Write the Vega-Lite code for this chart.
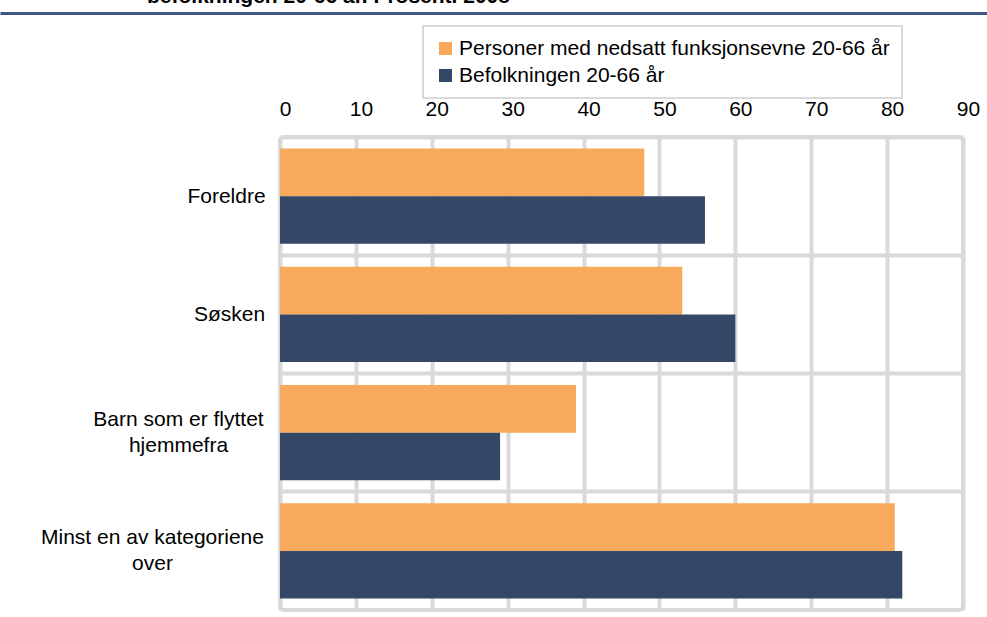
{
  "$schema": "https://vega.github.io/schema/vega-lite/v6.json",
  "width": 683,
  "height": 473,
  "autosize": {"type": "none"},
  "padding": {"left": 280, "top": 137, "right": 24, "bottom": 7},
  "background": "white",
  "title": {
    "text": "befolkningen 20-66 år. Prosent. 2008",
    "anchor": "start",
    "frame": "group",
    "dx": -133,
    "dy": 20,
    "offset": 9,
    "baseline": "alphabetic",
    "fontSize": 21,
    "fontWeight": "bold",
    "font": "Liberation Sans",
    "color": "#000000"
  },
  "config": {
    "font": "Liberation Sans",
    "view": {"stroke": "#d9d9d9", "strokeWidth": 4, "cornerRadius": 4},
    "legend": {"strokeWidth": 2}
  },
  "data": {
    "values": [
      {"kategori": "Foreldre", "gruppe": "Personer med nedsatt funksjonsevne 20-66 år", "prosent": 48},
      {"kategori": "Foreldre", "gruppe": "Befolkningen 20-66 år", "prosent": 56},
      {"kategori": "Søsken", "gruppe": "Personer med nedsatt funksjonsevne 20-66 år", "prosent": 53},
      {"kategori": "Søsken", "gruppe": "Befolkningen 20-66 år", "prosent": 60},
      {"kategori": "Barn som er flyttet hjemmefra", "gruppe": "Personer med nedsatt funksjonsevne 20-66 år", "prosent": 39},
      {"kategori": "Barn som er flyttet hjemmefra", "gruppe": "Befolkningen 20-66 år", "prosent": 29},
      {"kategori": "Minst en av kategoriene over", "gruppe": "Personer med nedsatt funksjonsevne 20-66 år", "prosent": 81},
      {"kategori": "Minst en av kategoriene over", "gruppe": "Befolkningen 20-66 år", "prosent": 82}
    ]
  },
  "layer": [
    {
      "mark": {"type": "bar"},
      "encoding": {
        "y": {
          "field": "kategori",
          "type": "nominal",
          "sort": null,
          "scale": {"paddingInner": 0, "paddingOuter": 0},
          "axis": {
            "title": null,
            "orient": "left",
            "domain": false,
            "ticks": false,
            "tickSize": 0,
            "grid": true,
            "gridColor": "#d9d9d9",
            "gridWidth": 4,
            "bandPosition": 0,
            "labelAlign": "center",
            "labelBaseline": "middle",
            "labelFontSize": 21,
            "labelColor": "#000000",
            "labelLineHeight": 26,
            "labelLimit": 0,
            "labelPadding": {
              "condition": [
                {"test": "datum.value == 'Foreldre'", "value": 54},
                {"test": "datum.value == 'Barn som er flyttet hjemmefra'", "value": 102},
                {"test": "datum.value == 'Minst en av kategoriene over'", "value": 128}
              ],
              "value": 51
            },
            "labelOffset": {
              "condition": [
                {"test": "datum.value == 'Barn som er flyttet hjemmefra'", "value": -13},
                {"test": "datum.value == 'Minst en av kategoriene over'", "value": -13}
              ],
              "value": 1
            },
            "labelExpr": "datum.label == 'Barn som er flyttet hjemmefra' ? ['Barn som er flyttet', 'hjemmefra'] : datum.label == 'Minst en av kategoriene over' ? ['Minst en av kategoriene', 'over'] : datum.label"
          }
        },
        "yOffset": {
          "field": "gruppe",
          "type": "nominal",
          "sort": ["Personer med nedsatt funksjonsevne 20-66 år", "Befolkningen 20-66 år"],
          "scale": {"paddingOuter": 0.24, "paddingInner": 0}
        },
        "x": {
          "field": "prosent",
          "type": "quantitative",
          "scale": {"domain": [0, 90], "nice": false},
          "axis": {
            "title": null,
            "orient": "top",
            "values": [0, 10, 20, 30, 40, 50, 60, 70, 80, 90],
            "domain": false,
            "ticks": false,
            "tickSize": 0,
            "grid": true,
            "gridColor": "#d9d9d9",
            "gridWidth": 4,
            "labelFontSize": 21,
            "labelColor": "#000000",
            "labelPadding": 22,
            "labelBaseline": "alphabetic",
            "labelOffset": 5,
            "labelFlush": false
          }
        },
        "color": {
          "field": "gruppe",
          "type": "nominal",
          "scale": {
            "domain": ["Personer med nedsatt funksjonsevne 20-66 år", "Befolkningen 20-66 år"],
            "range": ["#F7A95C", "#344766"]
          },
          "legend": {
            "title": null,
            "orient": "none",
            "legendX": 143,
            "legendY": -111,
            "direction": "vertical",
            "symbolType": "square",
            "symbolSize": 169,
            "symbolStrokeWidth": 0,
            "labelFontSize": 21,
            "labelColor": "#000000",
            "labelLimit": 0,
            "labelOffset": 3,
            "rowPadding": 5,
            "padding": 12,
            "strokeColor": "#d9d9d9",
            "fillColor": "white"
          }
        }
      }
    },
    {
      "mark": {"type": "point", "opacity": 0},
      "encoding": {
        "y": {"field": "kategori", "type": "nominal", "sort": null},
        "x": {
          "field": "prosent",
          "type": "quantitative",
          "scale": {"domain": [0, 90], "nice": false, "range": [-280, 707]},
          "axis": {
            "title": null,
            "orient": "top",
            "offset": 124,
            "labels": false,
            "ticks": false,
            "grid": false,
            "domain": true,
            "domainColor": "#3F5683",
            "domainWidth": 3
          }
        }
      }
    }
  ],
  "resolve": {"scale": {"x": "independent"}, "axis": {"x": "independent"}}
}
